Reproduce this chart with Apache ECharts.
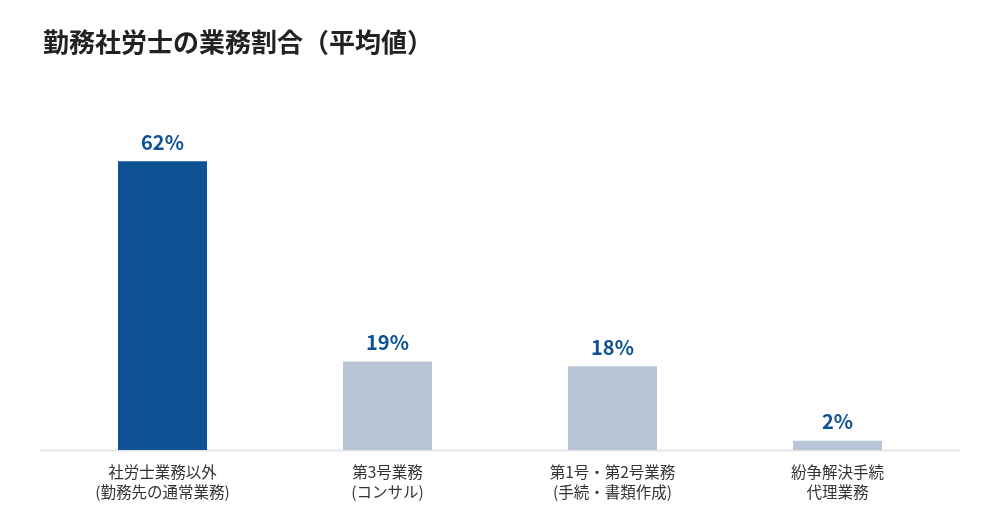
<!DOCTYPE html>
<html>
<head>
<meta charset="utf-8">
<script src="https://cdn.jsdelivr.net/npm/echarts@6/dist/echarts.min.js"></script>
<style>
  html, body { margin: 0; padding: 0; background: #fff; }
  #chart { width: 1000px; height: 520px; }
</style>
</head>
<body>
<div id="chart"></div>
<script>
var categories = [
    "社労士業務以外\n(勤務先の通常業務)",
    "第3号業務\n(コンサル)",
    "第1号・第2号業務\n(手続・書類作成)",
    "紛争解決手続\n代理業務"
];
var values = [62, 19, 18, 2];
var barColors = ["#0e5194", "#b8c5d7", "#b8c5d7", "#b8c5d7"];

var font = '"Noto Sans CJK JP", "Noto Sans", sans-serif';
var chart = echarts.init(document.getElementById("chart"));

var option = {
    animation: false,
    textStyle: { fontFamily: font },
    title: {
        text: "勤務社労士の業務割合（平均値）",
        left: 38,
        top: 24,
        textStyle: { fontFamily: font, fontSize: 26, fontWeight: "bold", color: "#222" }
    },
    grid: { left: 50, right: 50, top: 124, bottom: 70 },
    xAxis: {
        type: "category",
        data: categories,
        axisLine: { show: false },
        axisTick: { show: false },
        axisLabel: { color: "#333", fontSize: 15.5, lineHeight: 20, margin: 12, fontFamily: font }
    },
    yAxis: {
        type: "value",
        min: 0,
        max: 70,
        show: false,
        splitLine: { show: false }
    },
    series: [{
        type: "bar",
        barWidth: 89,
        data: values.map(function (v, i) {
            return { value: v, itemStyle: { color: barColors[i] } };
        }),
        label: {
            show: true,
            position: "top",
            distance: 9,
            formatter: "{c}%",
            color: "#0e5194",
            fontSize: 20,
            fontWeight: "bold",
            fontFamily: font
        }
    }],
    graphic: [{
        type: "line",
        shape: { x1: 40, y1: 450.5, x2: 960, y2: 450.5 },
        style: { stroke: "#e6e6e6", lineWidth: 2 },
        z: -1
    }]
};
chart.setOption(option);
</script>
</body>
</html>
